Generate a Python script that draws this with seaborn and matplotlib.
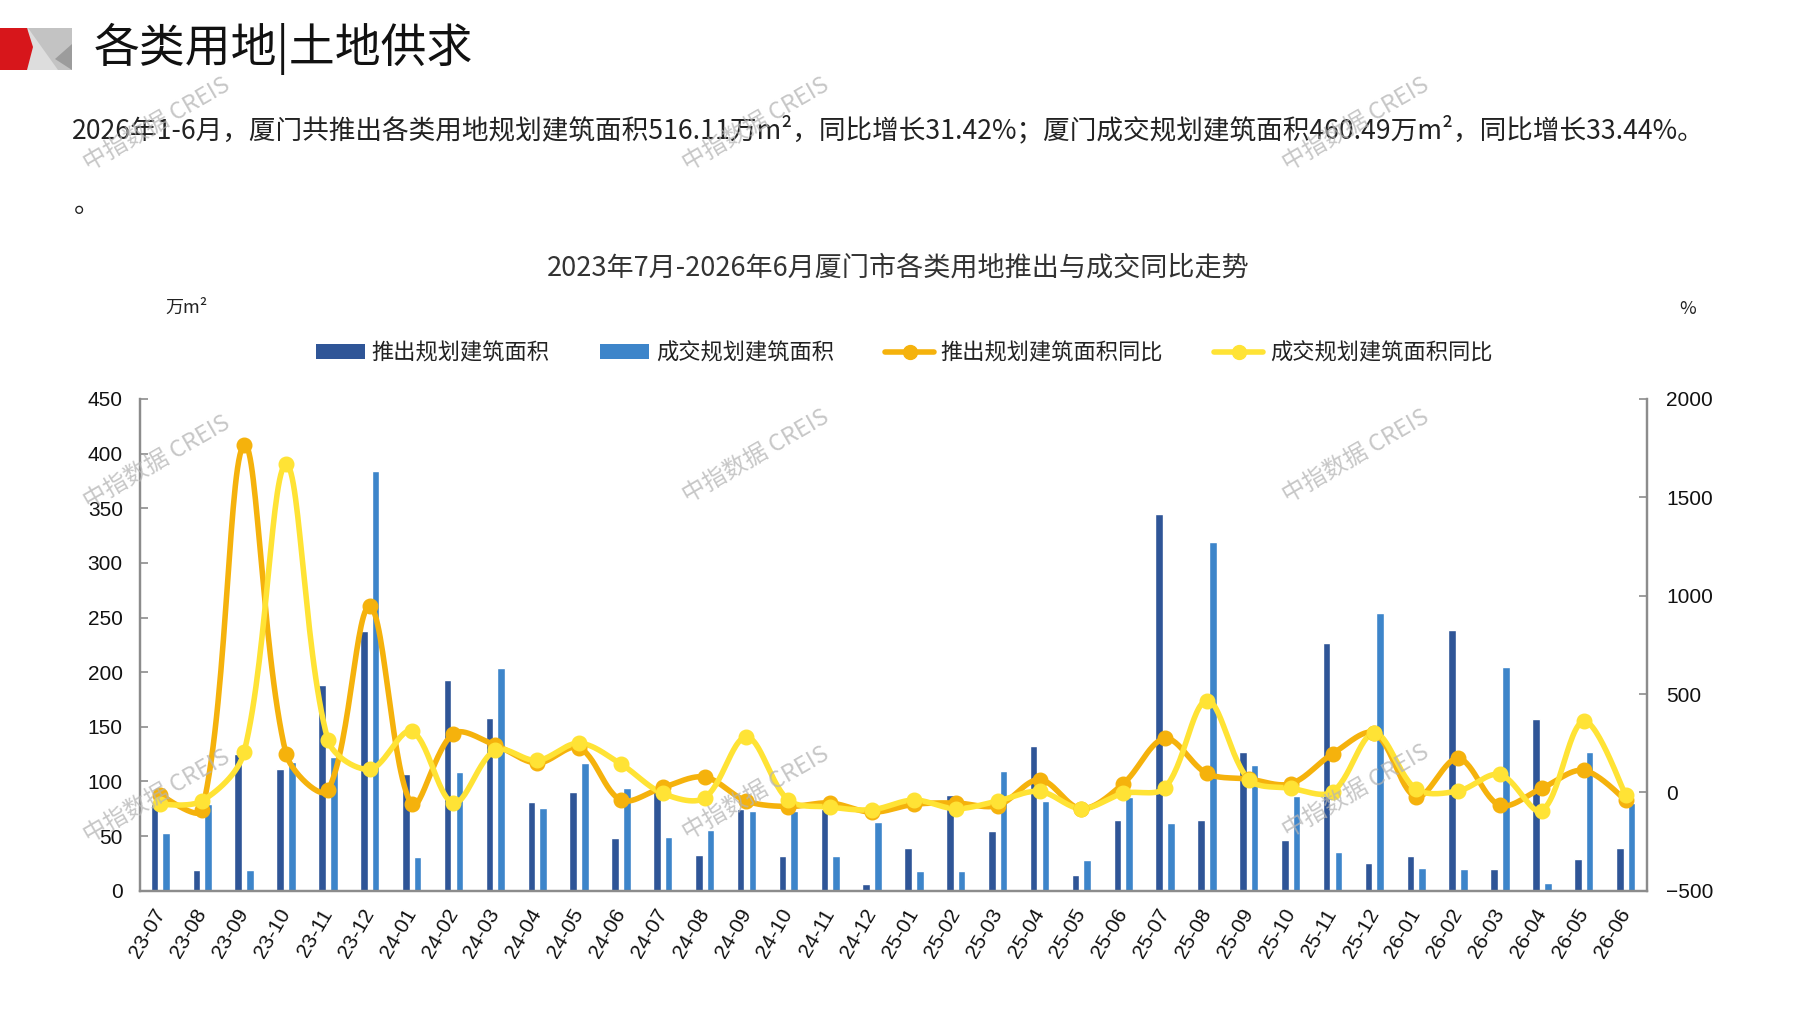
import numpy as np
import pandas as pd
import matplotlib
matplotlib.use("Agg")
import matplotlib.pyplot as plt
from matplotlib.patches import Polygon, Rectangle, Patch
from matplotlib.lines import Line2D
import seaborn as sns

# ---------------- data ----------------
months = ["23-07", "23-08", "23-09", "23-10", "23-11", "23-12",
          "24-01", "24-02", "24-03", "24-04", "24-05", "24-06",
          "24-07", "24-08", "24-09", "24-10", "24-11", "24-12",
          "25-01", "25-02", "25-03", "25-04", "25-05", "25-06",
          "25-07", "25-08", "25-09", "25-10", "25-11", "25-12",
          "26-01", "26-02", "26-03", "26-04", "26-05", "26-06"]

supply_area = [79, 19, 125, 111, 188, 238, 107, 193, 158, 81, 90, 48,
               91, 33, 75, 32, 75, 6, 39, 88, 55, 132, 14, 65,
               345, 65, 127, 46, 227, 25, 32, 239, 20, 157, 29, 39]

deal_area = [53, 79, 19, 118, 122, 384, 31, 109, 204, 76, 117, 94,
             49, 56, 73, 73, 32, 63, 18, 18, 110, 82, 28, 86,
             62, 319, 115, 87, 35, 254, 21, 20, 205, 7, 127, 80]

supply_yoy = [-13, -89, 1767, 196, 10, 946, -61, 299, 240, 149, 227, -39,
              25, 78, -44, -72, -54, -101, -61, -54, -67, 65, -83, 44,
              274, 96, 68, 44, 196, 301, -23, 173, -66, 21, 112, -40]

deal_yoy = [-61, -43, 206, 1667, 267, 117, 311, -54, 215, 162, 250, 144,
            -5, -28, 281, -39, -75, -88, -39, -83, -44, 5, -83, -5,
            24, 467, 65, 21, 3, 301, 16, 7, 91, -93, 362, -14]

series_names = ["推出规划建筑面积", "成交规划建筑面积", "推出规划建筑面积同比", "成交规划建筑面积同比"]
left_ticks = [0, 50, 100, 150, 200, 250, 300, 350, 400, 450]
right_ticks = [-500, 0, 500, 1000, 1500, 2000]

# ---------------- style ----------------
sns.set_theme(style="white")
CJK = ["Noto Sans CJK SC", "DejaVu Sans"]
LAT = ["Liberation Sans", "DejaVu Sans"]
plt.rcParams["font.family"] = CJK
plt.rcParams["axes.unicode_minus"] = True

C_DARK = "#2F5597"
C_LIGHT = "#3D85CA"
C_ORANGE = "#F5B20C"
C_YELLOW = "#FFE335"
C_SPINE = "#8C8C8C"

W, H = 1797, 1010
fig = plt.figure(figsize=(W / 100, H / 100), dpi=100)

def fx(px):
    return px / W

def fy(py):
    return 1 - py / H

# ---------------- header ----------------
logo = fig.add_axes([0, 0, 1, 1], zorder=-1)
logo.set_xlim(0, W)
logo.set_ylim(H, 0)
logo.axis("off")
logo.add_patch(Rectangle((22, 28), 50, 42, color="#C3C3C3", lw=0))
logo.add_patch(Polygon([(28, 28), (58, 70), (22, 70)], closed=True, color="#DDDDDD", lw=0))
logo.add_patch(Polygon([(72, 44), (55, 59), (72, 70)], closed=True, color="#9C9C9C", lw=0))
logo.add_patch(Polygon([(0, 28), (27, 28), (33, 47), (27, 70), (0, 70)], closed=True, color="#D7161B", lw=0))

fig.text(fx(94), fy(49), "各类用地|土地供求", fontsize=33, color="#111111",
         ha="left", va="center", family=CJK)

para = "2026年1-6月，厦门共推出各类用地规划建筑面积516.11万m²，同比增长31.42%；厦门成交规划建筑面积460.49万m²，同比增长33.44%。"
fig.text(fx(72), fy(130), para, fontsize=19.2, color="#222222", ha="left", va="center", family=CJK)
fig.text(fx(74), fy(204), "。", fontsize=19, color="#222222", ha="left", va="center", family=CJK)

fig.text(fx(898), fy(268), "2023年7月-2026年6月厦门市各类用地推出与成交同比走势",
         fontsize=19.5, color="#333333", ha="center", va="center", family=CJK)
fig.text(fx(186), fy(308), "万m²", fontsize=13, color="#222222", ha="center", va="center", family=CJK)
fig.text(fx(1688), fy(309), "%", fontsize=13, color="#222222", ha="center", va="center", family=CJK)

# ---------------- chart ----------------
AX_L, AX_R, AX_T, AX_B = 139.5, 1646.5, 399, 890.7
ax = fig.add_axes([fx(AX_L), fy(AX_B), fx(AX_R) - fx(AX_L), fy(AX_T) - fy(AX_B)])

df = pd.DataFrame({
    "month": months * 2,
    "series": [series_names[0]] * len(months) + [series_names[1]] * len(months),
    "value": supply_area + deal_area,
})
sns.barplot(data=df, x="month", y="value", hue="series", order=months,
            hue_order=series_names[:2], palette=[C_DARK, C_LIGHT],
            width=0.56, gap=0.35, saturation=1, legend=False, ax=ax, zorder=2)

ax.set_xlim(-0.5, len(months) - 0.5)
ax.set_ylim(0, 450)
ax.set_yticks(left_ticks)
ax.set_xlabel("")
ax.set_ylabel("")
for lab in ax.get_yticklabels():
    lab.set_family(LAT)
ax.tick_params(axis="y", direction="in", length=6, width=1.2, color=C_SPINE,
               labelsize=15, pad=12, labelcolor="#111111")
ax.set_xticks(range(len(months)))
ax.set_xticklabels(months, rotation=60, ha="right", va="center",
                   rotation_mode="anchor", family=LAT, fontsize=15, color="#111111")
ax.tick_params(axis="x", which="major", length=0, pad=14)
ax.set_xticks(np.arange(-0.5, len(months), 1), minor=True)
ax.tick_params(axis="x", which="minor", direction="in", length=6, width=1.2, color=C_SPINE)
for side in ["left", "bottom", "right"]:
    ax.spines[side].set_color(C_SPINE)
    ax.spines[side].set_linewidth(1.6)
ax.spines["top"].set_visible(False)

ax2 = ax.twinx()
Y2MIN, Y2MAX = -500, 2000
ax2.set_ylim(Y2MIN, Y2MAX)
ax2.set_yticks(right_ticks)
for lab in ax2.get_yticklabels():
    lab.set_family(LAT)
ax2.tick_params(axis="y", direction="in", length=6, width=1.2, color=C_SPINE,
                labelsize=15, pad=14, labelcolor="#111111")
for side in ["left", "bottom", "right"]:
    ax2.spines[side].set_color(C_SPINE)
    ax2.spines[side].set_linewidth(1.6)
ax2.spines["top"].set_visible(False)

# pixel scale factors, used only to shape the smoothing like a spreadsheet curve
SX = (AX_R - AX_L) / len(months)
SY = (AX_B - AX_T) / (Y2MAX - Y2MIN)


def smooth(xv, yv, n=30):
    """Length-weighted cubic Bezier rendering through the data points."""
    P = np.column_stack([np.asarray(xv, float) * SX, np.asarray(yv, float) * SY])
    m = len(P)
    d = np.r_[np.linalg.norm(np.diff(P, axis=0), axis=1)]
    out = []
    for i in range(m - 1):
        p1, p2 = P[i], P[i + 1]
        p0 = P[i - 1] if i > 0 else P[i]
        p3 = P[i + 2] if i + 2 < m else P[i + 1]
        dprev = d[i - 1] if i > 0 else d[i]
        dnext = d[i + 1] if i + 1 < m - 1 else d[i]
        c1 = p1 + (p2 - p0) * d[i] / (dprev + d[i]) / 3 * (1 if i > 0 else 0.5)
        c2 = p2 - (p3 - p1) * d[i] / (d[i] + dnext) / 3 * (1 if i + 2 < m else 0.5)
        t = np.linspace(0, 1, n, endpoint=False)[:, None]
        seg = ((1 - t) ** 3) * p1 + 3 * ((1 - t) ** 2) * t * c1 + 3 * (1 - t) * t * t * c2 + t ** 3 * p2
        out.append(seg)
    out.append(P[-1:])
    out = np.vstack(out)
    return out[:, 0] / SX, out[:, 1] / SY


xpos = np.arange(len(months))
for vals, col in [(supply_yoy, C_ORANGE), (deal_yoy, C_YELLOW)]:
    sx, sy = smooth(xpos, vals)
    ax2.plot(sx, sy, color=col, lw=4, solid_capstyle="round", solid_joinstyle="round", zorder=3)
    ax2.plot(xpos, vals, linestyle="none", marker="o", ms=10.5, color=col, zorder=4)

# ---------------- legend ----------------
handles = [
    Patch(facecolor=C_DARK, edgecolor="none"),
    Patch(facecolor=C_LIGHT, edgecolor="none"),
    Line2D([], [], color=C_ORANGE, lw=4, marker="o", ms=10),
    Line2D([], [], color=C_YELLOW, lw=4, marker="o", ms=10),
]
leg = fig.legend(handles, series_names, loc="center", bbox_to_anchor=(fx(904), fy(353)),
                 ncol=4, frameon=False, handlelength=2.2, handleheight=0.65,
                 handletextpad=0.3, columnspacing=2.3, prop={"family": CJK, "size": 16})
for t in leg.get_texts():
    t.set_color("#222222")

# ---------------- watermarks ----------------
wm_pos = [(157, 124), (756, 124), (1356, 124),
          (157, 462), (756, 456), (1356, 456),
          (157, 796), (756, 793), (1356, 791)]
for (wx, wy) in wm_pos:
    fig.text(fx(wx), fy(wy), "中指数据 CREIS", fontsize=17, color="#B4B4B4", alpha=0.75,
             rotation=30, ha="center", va="center", family=CJK, zorder=20)

fig.savefig("out.png", dpi=100)
